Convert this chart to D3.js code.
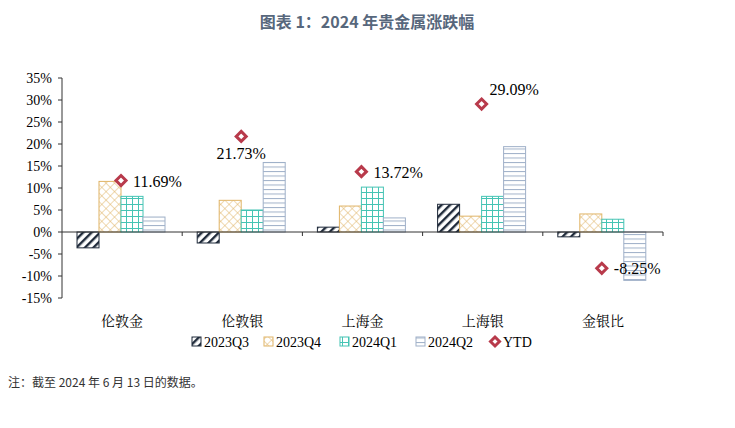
<!DOCTYPE html><html><head><meta charset="utf-8"><script src="https://cdn.jsdelivr.net/npm/d3@7"></script>
<style>body{margin:0;background:#fff}</style></head><body><svg id="c" width="735" height="428"></svg>
<script>
const categories=["伦敦金","伦敦银","上海金","上海银","金银比"];
const series=["2023Q3","2023Q4","2024Q1","2024Q2"];
const q3=[-3.6,-2.5,1.1,6.3,-1.1];
const q4=[11.5,7.2,5.9,3.6,4.1];
const q1=[8.1,5.0,10.2,8.1,2.9];
const q2=[3.4,15.8,3.2,19.4,-11.0];
const ytd=[11.69,21.73,13.72,29.09,-8.25];
const yTicks=[35,30,25,20,15,10,5,0,-5,-10,-15];
const vals=[q3,q4,q1,q2];
const svg=d3.select("#c");
const defs=svg.append("defs");
const colors=["#1f2a3a","#e0b466","#45c4b4","#9fb0c8"];
function pat(id,c,draw){const p=defs.append("pattern").attr("id",id).attr("patternUnits","userSpaceOnUse").attr("width",6).attr("height",6);p.append("rect").attr("width",6).attr("height",6).attr("fill","#fff");draw(p,c);}
pat("p0",colors[0],(p,c)=>{p.attr("patternTransform","rotate(45)");p.append("rect").attr("width",2.4).attr("height",6).attr("fill",c);});
pat("p1",colors[1],(p,c)=>{p.attr("patternTransform","rotate(45)");p.append("path").attr("d","M0,0H6M0,0V6").attr("stroke",c).attr("stroke-width",1);});
pat("p2",colors[2],(p,c)=>{p.append("path").attr("d","M0,0.5H6M0.5,0V6").attr("stroke",c).attr("stroke-width",1);});
pat("p3",colors[3],(p,c)=>{p.attr("height",4.5);p.append("path").attr("d","M0,0.5H6").attr("stroke",c).attr("stroke-width",1);});
svg.append("text").attr("x",367).attr("y",28).attr("text-anchor","middle").attr("font-family","Noto Sans CJK SC").attr("font-weight","bold").attr("font-size",16).attr("fill","#57677c").text("图表 1：2024 年贵金属涨跌幅");
const x=d3.scaleBand().domain(categories).range([62,663]);
const y=d3.scaleLinear().domain([-15,35]).range([298,78]);
const bw=22, off=15;
const g=svg.append("g");
g.append("line").attr("x1",62).attr("x2",62).attr("y1",y(35)).attr("y2",y(-15)).attr("stroke","#333");
yTicks.forEach(t=>{g.append("line").attr("x1",58).attr("x2",62).attr("y1",y(t)).attr("y2",y(t)).attr("stroke","#333");
g.append("text").attr("x",52).attr("y",y(t)+5).attr("text-anchor","end").attr("font-family","Liberation Serif").attr("font-size",14).text(t+"%");});
vals.forEach((arr,si)=>{arr.forEach((v,i)=>{const x0=x(categories[i])+off+si*bw;
g.append("rect").attr("x",x0).attr("y",y(Math.max(v,0))).attr("width",bw).attr("height",Math.abs(y(v)-y(0))).attr("fill","url(#p"+si+")").attr("stroke",colors[si]).attr("stroke-width",1);});});
g.append("line").attr("x1",62).attr("x2",663).attr("y1",y(0)).attr("y2",y(0)).attr("stroke","#333");
categories.forEach((c,i)=>{const xe=x(c)+x.bandwidth();g.append("line").attr("x1",xe).attr("x2",xe).attr("y1",y(0)).attr("y2",y(0)+4).attr("stroke","#333");
g.append("text").attr("x",x(c)+x.bandwidth()/2).attr("y",326).attr("text-anchor","middle").attr("font-family","Noto Serif CJK SC, Noto Sans CJK SC").attr("font-size",14).text(c);});
// YTD label offsets [dx,dy,anchor]
const lblOff=[[12,6,"start"],[0,23,"middle"],[12,6,"start"],[8,-9,"start"],[12,6,"start"]];
ytd.forEach((v,i)=>{const mx=x(categories[i])+off+bw*2, cy=y(v);
g.append("path").attr("d","M0,-5L5,0L0,5L-5,0Z").attr("transform",`translate(${mx},${cy})`).attr("fill","#fff").attr("stroke","#b83a4b").attr("stroke-width",3);
const [dx,dy,a]=lblOff[i];
g.append("text").attr("x",mx+dx).attr("y",cy+dy).attr("text-anchor",a).attr("font-family","Liberation Serif").attr("font-size",16).text(v.toFixed(2)+"%");});
const lx=[192,264,340,416,491];
series.forEach((s,i)=>{g.append("rect").attr("x",lx[i]).attr("y",337).attr("width",9).attr("height",9).attr("fill","url(#p"+i+")").attr("stroke",colors[i]);
g.append("text").attr("x",lx[i]+12).attr("y",347).attr("font-family","Liberation Serif").attr("font-size",14).text(s);});
g.append("path").attr("d","M0,-4.5L4.5,0L0,4.5L-4.5,0Z").attr("transform",`translate(${lx[4]+4},341.5)`).attr("fill","#fff").attr("stroke","#b83a4b").attr("stroke-width",3);
g.append("text").attr("x",lx[4]+12).attr("y",347).attr("font-family","Liberation Serif").attr("font-size",14).text("YTD");
svg.append("text").attr("x",8).attr("y",387).attr("font-family","Noto Sans CJK SC").attr("font-size",12).attr("fill","#333").text("注：截至 2024 年 6 月 13 日的数据。");
</script></body></html>
